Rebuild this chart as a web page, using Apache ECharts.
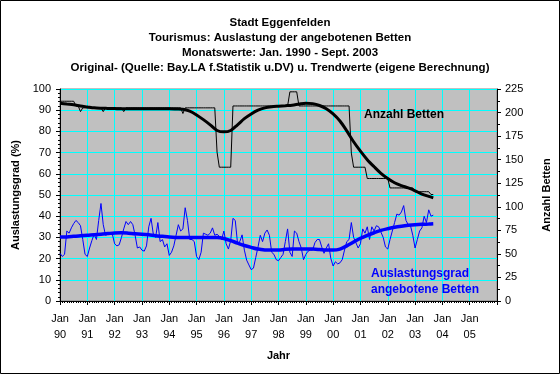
<!DOCTYPE html>
<html>
<head>
<meta charset="utf-8">
<script src="https://cdn.jsdelivr.net/npm/echarts@6/dist/echarts.min.js"></script>
<style>
html,body{margin:0;padding:0;background:#fff;}
#chart{width:560px;height:374px;}
</style>
</head>
<body>
<div id="chart"></div>
<script>
// Tick labels (year of each January)
const yearLabels = ['90','91','92','93','94','95','96','97','98','99','00','01','02','03','04','05'];

// Title lines
const titleLines = [
  'Stadt Eggenfelden',
  'Tourismus: Auslastung der angebotenen Betten',
  'Monatswerte: Jan. 1990 - Sept. 2003',
  'Original- (Quelle: Bay.LA f.Statistik u.DV) u. Trendwerte (eigene Berechnung)'
];

// Auslastungsgrad (%) monthly, Jan 1990 .. Sept 2003 (left axis)
const auslastung = [
  22.5,21,22,33,32,34.5,36.5,38,37,35.5,29,22,
  21,25,28.5,31.5,29,38,46,36,31,31.5,32,31.5,
  27,26,26.5,30,34,37.5,36,37.5,36,31,25,25.5,
  24,23.5,26,35,39,31.5,30,37,28,29,25.5,27,
  21.5,23,26,31,36,33,34,44,38,29,29,28,
  21,19.5,23,32,31.5,31,32,34.5,31,31.5,30.5,29,
  33,27,24.5,28.5,39,38,27.2,28,31.2,24,19.3,17,
  14.8,15.5,20.5,25.5,31,28,32,33.5,31,23,22,19.5,
  19,20.5,22,28,34,23,21,33,32,28,25,19.5,
  22,23.5,24,24,27.5,29,29,25.5,22.5,25,27,20,
  16.5,18.5,17.5,18,19.5,24,28,29,37,30,27.5,25,
  27,34,32,35,29,35,33,35.5,35,32.5,30,25.5,
  24.5,29,33,37,41,40.5,42,45,38,36,35.5,31,
  25,29,33,34.5,40,37,43,40,40.5
];

// Anzahl Betten monthly, Jan 1990 .. Sept 2003 (right axis)
const betten = [
  212,212,212,212,212,212,212,207,207,201,205,205,
  205,205,205,205,205,205,205,201,205,205,205,205,
  205,205,205,205,201,205,205,205,205,205,205,205,
  205,205,205,205,205,205,205,205,205,205,205,205,
  205,205,205,205,205,205,199,205,205,205,205,205,
  205,205,205,205,205,205,205,205,205,158,142,142,
  142,142,142,142,207,207,207,207,207,207,207,207,
  207,207,207,207,207,207,207,207,207,207,207,207,
  207,207,207,207,207,222,222,222,222,207,207,207,
  207,207,207,207,207,207,207,207,207,207,207,207,
  207,207,207,207,207,207,207,207,157,142,142,142,
  142,142,142,130,130,130,130,130,130,130,130,130,
  130,120,120,120,120,120,120,120,120,120,120,120,
  116,116,116,116,116,116,116,113,113
];

// Trend values (own calculation), read every third month
const trendMonths = [0,3,6,9,12,15,18,21,24,27,30,33,36,39,42,45,48,51,54,57,60,63,66,69,72,75,78,81,84,87,90,93,96,99,102,105,108,111,114,117,120,123,126,129,132,135,138,141,144,147,150,153,156,159,162,164];
const auslastungTrend = [30.2,30.2,30.5,30.8,31,31.3,31.5,31.8,32.1,32.2,32,31.7,31.5,31.2,30.8,30.5,30.2,30,29.9,29.9,29.9,29.9,29.9,29.9,29.5,28.5,27.3,26.2,25.3,24.5,24.1,24,24,24.4,24.5,24.5,24.5,24.5,24.3,24,24,24.5,26,27.8,29.6,31,32.2,33.3,34.1,34.8,35.3,35.7,36,36.2,36.3,36.4];
const bettenTrend = [209.8,209,208.3,207,206,205,204.6,204.4,204.2,204,204,204,204,204,204,204,204,203.8,203.5,201.5,197.5,192.5,187,181,179.5,181,187,193.5,198.5,202.5,205,206.2,206.8,207.3,207.8,209,210,209.5,207.5,204,198.5,191,180.5,169,159,150,142.5,135.5,130,125.5,122.5,120,117,113.5,111,109.5];

const chart = echarts.init(document.getElementById('chart'), null, {renderer:'canvas'});
const FONT = 'Liberation Sans, Arial, sans-serif';

chart.setOption({
  animation: false,
  backgroundColor: '#ffffff',
  textStyle: {fontFamily: FONT},
  grid: {
    left: 60, right: 59, top: 89, bottom: 73,
    show: true, backgroundColor: '#C0C0C0', borderColor: '#808080', borderWidth: 1
  },
  xAxis: {
    type: 'value', min: 0, max: 192, interval: 12,
    name: 'Jahr', nameLocation: 'middle', nameGap: 49,
    nameTextStyle: {fontFamily: FONT, fontSize: 11, fontWeight: 'bold', color: '#000'},
    axisLine: {lineStyle: {color: '#000', width: 1}},
    axisTick: {show: true, length: 4, lineStyle: {color: '#000'}},
    minorTick: {show: true, splitNumber: 12, length: 2, lineStyle: {color: '#000'}},
    splitLine: {show: true, lineStyle: {color: '#00FFFF', width: 1}},
    axisLabel: {
      margin: 10, fontFamily: FONT, fontSize: 11, color: '#000', lineHeight: 16,
      formatter: function (v) { const i = Math.round(v / 12); return i < yearLabels.length ? 'Jan\n' + yearLabels[i] : ''; }
    }
  },
  yAxis: [
    {
      type: 'value', min: 0, max: 100, interval: 10, position: 'left',
      name: 'Auslastungsgrad (%)', nameLocation: 'middle', nameGap: 32, nameRotate: 90,
      nameTextStyle: {fontFamily: FONT, fontSize: 11, fontWeight: 'bold', color: '#000'},
      axisLine: {show: true, lineStyle: {color: '#000'}},
      axisTick: {show: true, length: 4, lineStyle: {color: '#000'}},
      minorTick: {show: true, splitNumber: 5, length: 2, lineStyle: {color: '#000'}},
      splitLine: {show: true, lineStyle: {color: '#00FFFF', width: 1}},
      axisLabel: {margin: 9, fontFamily: FONT, fontSize: 11, color: '#000'}
    },
    {
      type: 'value', min: 0, max: 225, interval: 25, position: 'right',
      name: 'Anzahl Betten', nameLocation: 'middle', nameGap: 44, nameRotate: 90,
      nameTextStyle: {fontFamily: FONT, fontSize: 11, fontWeight: 'bold', color: '#000'},
      axisLine: {show: true, lineStyle: {color: '#000'}},
      axisTick: {show: true, length: 4, lineStyle: {color: '#000'}},
      minorTick: {show: true, splitNumber: 2, length: 3, lineStyle: {color: '#000'}},
      splitLine: {show: false},
      axisLabel: {margin: 8, fontFamily: FONT, fontSize: 11, color: '#000'}
    }
  ],
  graphic: [
    {type: 'rect', shape: {x: 0.5, y: 0.5, width: 559, height: 373}, style: {fill: 'none', stroke: '#000', lineWidth: 1}, silent: true, z: 100},
    {type: 'text', x: 280, y: 15, style: {text: titleLines.join('\n'), font: 'bold 11.5px ' + FONT, fill: '#000', align: 'center', verticalAlign: 'top', lineHeight: 15}, z: 50},
    {type: 'text', left: 364, top: 109, style: {text: 'Anzahl Betten', font: 'bold 12px ' + FONT, fill: '#000'}, z: 50},
    {type: 'text', left: 371, top: 266, style: {text: 'Auslastungsgrad\nangebotene Betten', font: 'bold 12px ' + FONT, fill: '#0000FF', lineHeight: 16}, z: 50}
  ],
  series: [
    {
      name: 'Anzahl Betten', type: 'line', yAxisIndex: 1, symbol: 'none',
      data: betten.map((v, i) => [i, v]),
      lineStyle: {color: '#000', width: 1}, itemStyle: {color: '#000'}
    },
    {
      name: 'Anzahl Betten Trend', type: 'line', yAxisIndex: 1, symbol: 'none', smooth: 0.3,
      data: trendMonths.map((m, i) => [m, bettenTrend[i]]),
      lineStyle: {color: '#000', width: 3}, itemStyle: {color: '#000'}
    },
    {
      name: 'Auslastungsgrad', type: 'line', yAxisIndex: 0, symbol: 'none',
      data: auslastung.map((v, i) => [i, v]),
      lineStyle: {color: '#0000FF', width: 1}, itemStyle: {color: '#0000FF'}
    },
    {
      name: 'Auslastungsgrad Trend', type: 'line', yAxisIndex: 0, symbol: 'none', smooth: 0.3,
      data: trendMonths.map((m, i) => [m, auslastungTrend[i]]),
      lineStyle: {color: '#0000FF', width: 3.5}, itemStyle: {color: '#0000FF'}
    }
  ]
});
</script>
</body>
</html>
